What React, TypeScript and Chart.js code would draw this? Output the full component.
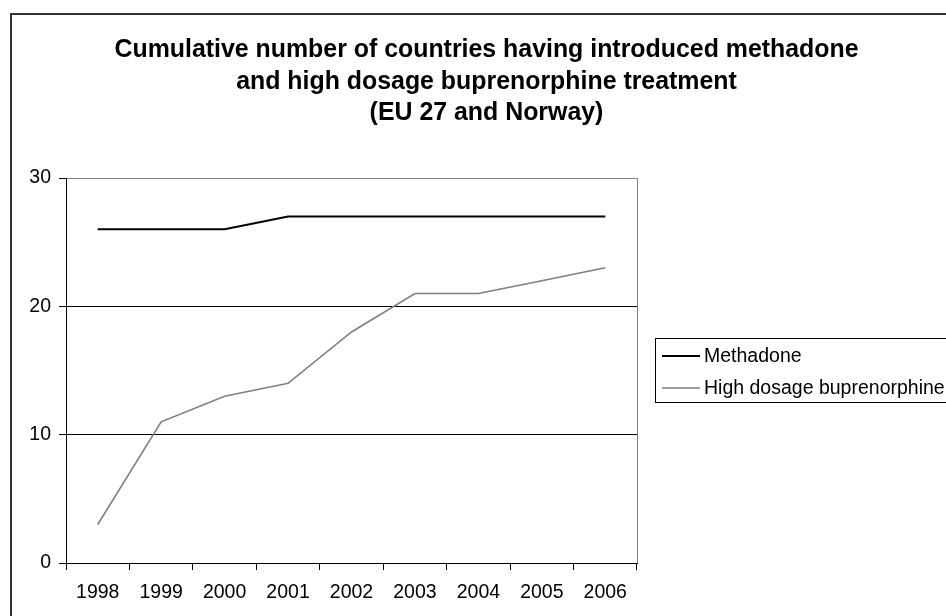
import React, { useEffect, useRef } from "react";
import { Chart, registerables } from "chart.js";

Chart.register(...registerables);

const years = ["1998", "1999", "2000", "2001", "2002", "2003", "2004", "2005", "2006"];
const methadone = [26, 26, 26, 27, 27, 27, 27, 27, 27];
const buprenorphine = [3, 11, 13, 14, 18, 21, 21, 22, 23];
const seriesNames = ["Methadone", "High dosage buprenorphine"];
const titleLines = [
  "Cumulative number of countries having introduced methadone",
  "and high dosage buprenorphine treatment",
  "(EU 27 and Norway)",
];
const yTicks = [0, 10, 20, 30];

const FONT = '"Liberation Sans", Arial, Helvetica, sans-serif';
const W = 946;
const H = 616;

// Outer frame, title block, plot-area border and the boxed legend
const decorPlugin = {
  id: "decor",
  beforeDraw(chart: any) {
    const ctx = chart.ctx;
    ctx.save();
    ctx.fillStyle = "#ffffff";
    ctx.fillRect(0, 0, chart.width, chart.height);
    ctx.restore();
  },
  beforeDatasetsDraw(chart: any) {
    const { ctx, chartArea } = chart;
    ctx.save();
    ctx.strokeStyle = "#808080";
    ctx.lineWidth = 1;
    ctx.beginPath();
    ctx.moveTo(chartArea.right + 0.5, chartArea.top);
    ctx.lineTo(chartArea.right + 0.5, chartArea.bottom);
    ctx.stroke();
    ctx.restore();
  },
  afterDraw(chart: any) {
    const ctx = chart.ctx;
    ctx.save();

    // chart frame
    ctx.strokeStyle = "#333333";
    ctx.lineWidth = 2;
    ctx.beginPath();
    ctx.moveTo(11, H + 10);
    ctx.lineTo(11, 14);
    ctx.lineTo(W + 10, 14);
    ctx.stroke();

    // title
    ctx.fillStyle = "#000000";
    ctx.font = `bold 24.9px ${FONT}`;
    ctx.textAlign = "center";
    ctx.textBaseline = "alphabetic";
    const baselines = [57, 88.5, 120];
    titleLines.forEach((line, i) => ctx.fillText(line, 486.5, baselines[i]));

    // legend
    ctx.strokeStyle = "#000000";
    ctx.lineWidth = 1;
    ctx.strokeRect(655.5, 338.5, 320, 64);
    ctx.font = `19.5px ${FONT}`;
    ctx.textAlign = "left";
    ctx.textBaseline = "middle";
    const rows = [356, 388];
    chart.data.datasets.forEach((ds: any, i: number) => {
      const y = rows[i];
      ctx.strokeStyle = ds.borderColor;
      ctx.lineWidth = ds.borderWidth;
      ctx.beginPath();
      ctx.moveTo(662, y);
      ctx.lineTo(700, y);
      ctx.stroke();
      ctx.fillStyle = "#000000";
      ctx.fillText(ds.label, 704, y + 1);
    });
    ctx.restore();
  },
};

export default function App() {
  const canvasRef = useRef<HTMLCanvasElement | null>(null);

  useEffect(() => {
    if (!canvasRef.current) return;
    const chart = new Chart(canvasRef.current, {
      type: "line",
      data: {
        labels: years,
        datasets: [
          {
            label: seriesNames[0],
            data: methadone,
            borderColor: "#000000",
            borderWidth: 2,
            pointRadius: 0,
            tension: 0,
            fill: false,
          },
          {
            label: seriesNames[1],
            data: buprenorphine,
            borderColor: "#7f7f7f",
            borderWidth: 1.6,
            pointRadius: 0,
            tension: 0,
            fill: false,
          },
        ],
      },
      options: {
        responsive: false,
        animation: false,
        devicePixelRatio: 1,
        layout: { padding: { left: 0, right: W - 637, top: 178, bottom: 0 } },
        plugins: {
          legend: { display: false },
          title: { display: false },
          tooltip: { enabled: false },
        },
        scales: {
          x: {
            type: "category",
            offset: true,
            grid: {
              offset: true,
              drawOnChartArea: false,
              drawTicks: true,
              tickLength: 7,
              tickColor: "#000000",
            },
            border: { color: "#000000", width: 1 },
            ticks: {
              color: "#000000",
              font: { family: FONT, size: 19.5 },
              padding: 11,
              maxRotation: 0,
              autoSkip: false,
            },
            afterFit: (scale: any) => {
              scale.height = 53;
            },
          },
          y: {
            min: 0,
            max: 30,
            afterBuildTicks: (scale: any) => {
              scale.ticks = yTicks.map((v) => ({ value: v }));
            },
            grid: {
              color: (c: any) => (c.tick && c.tick.value === 30 ? "#808080" : "#000000"),
              drawTicks: true,
              tickLength: 7,
              tickColor: "#000000",
            },
            border: { color: "#000000", width: 1 },
            ticks: {
              color: "#000000",
              font: { family: FONT, size: 19.5 },
              padding: 8,
            },
            afterFit: (scale: any) => {
              scale.width = 66;
            },
          },
        },
      },
      plugins: [decorPlugin],
    });
    return () => chart.destroy();
  }, []);

  return (
    <div style={{ position: "absolute", left: 0, top: 0, width: W, height: H, background: "#fff" }}>
      <canvas ref={canvasRef} width={W} height={H} style={{ display: "block" }} />
    </div>
  );
}
